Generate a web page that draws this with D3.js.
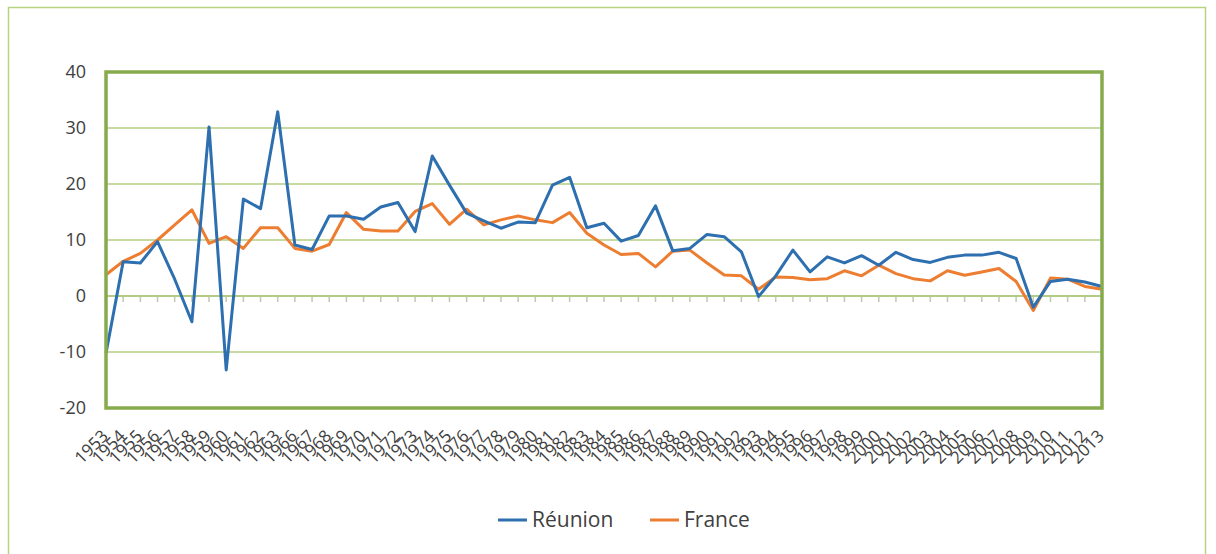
<!DOCTYPE html>
<html lang="en">
<head>
    <meta charset="UTF-8">
    <title>Réunion vs France</title>
    <script src="https://d3js.org/d3.v7.min.js"></script>
    <style>
        body {
            margin: 0;
            background-color: #ffffff;
            font-family: 'Open Sans', 'Noto Sans', sans-serif;
        }
        .ylabel, .xlabel {
            fill: #404040;
        }
        .legend text {
            fill: #404040;
            font-size: 21px;
        }
    </style>
</head>
<body>
    <div id="chart"></div>
    <script>
        // Years on the category axis (1964 and 1965 are absent in the source)
        const years = [1953, 1954, 1955, 1956, 1957, 1958, 1959, 1960, 1961, 1962, 1963,
            1966, 1967, 1968, 1969, 1970, 1971, 1972, 1973, 1974, 1975, 1976, 1977, 1978,
            1979, 1980, 1981, 1982, 1983, 1984, 1985, 1986, 1987, 1988, 1989, 1990, 1991,
            1992, 1993, 1994, 1995, 1996, 1997, 1998, 1999, 2000, 2001, 2002, 2003, 2004,
            2005, 2006, 2007, 2008, 2009, 2010, 2011, 2012, 2013];

        const reunion = [-10.2, 6.1, 5.9, 9.7, 3.0, -4.6, 30.2, -13.2, 17.3, 15.6, 32.9,
            9.1, 8.3, 14.3, 14.3, 13.7, 15.9, 16.7, 11.5, 25.0, 19.8, 14.8, 13.4, 12.1,
            13.2, 13.1, 19.8, 21.2, 12.2, 13.0, 9.8, 10.8, 16.1, 8.1, 8.5, 11.0, 10.6,
            7.9, -0.1, 3.6, 8.2, 4.3, 7.0, 5.9, 7.2, 5.5, 7.8, 6.5, 6.0, 6.9, 7.3, 7.3,
            7.8, 6.7, -2.0, 2.6, 3.0, 2.5, 1.7];

        const france = [3.8, 6.2, 7.6, 10.0, 12.7, 15.4, 9.4, 10.6, 8.5, 12.2, 12.2,
            8.5, 8.0, 9.2, 14.9, 11.9, 11.6, 11.6, 15.1, 16.5, 12.8, 15.5, 12.7, 13.6,
            14.3, 13.6, 13.1, 14.9, 11.2, 9.1, 7.4, 7.6, 5.2, 8.0, 8.2, 5.9, 3.75, 3.6,
            1.2, 3.4, 3.3, 2.9, 3.1, 4.5, 3.6, 5.5, 4.0, 3.1, 2.7, 4.5, 3.7, 4.3, 4.9,
            2.6, -2.6, 3.2, 3.0, 1.7, 1.2];

        const yTicks = [-20, -10, 0, 10, 20, 30, 40];

        const W = 1216, H = 554;
        const plot = {left: 106, right: 1102, top: 72, bottom: 408};

        const svg = d3.select("#chart")
            .append("svg")
            .attr("width", W)
            .attr("height", H);

        // outer chart border
        svg.append("rect")
            .attr("x", 8.5).attr("y", 7.5)
            .attr("width", 1197).attr("height", 560)
            .attr("fill", "none")
            .attr("stroke", "#b7d37f")
            .attr("stroke-width", 1.5);

        const x = d3.scalePoint()
            .domain(years)
            .range([plot.left, plot.right]);

        const y = d3.scaleLinear()
            .domain([-20, 40])
            .range([plot.bottom, plot.top]);

        // horizontal gridlines
        svg.append("g")
            .selectAll("line")
            .data(yTicks)
            .join("line")
            .attr("x1", plot.left).attr("x2", plot.right)
            .attr("y1", d => y(d)).attr("y2", d => y(d))
            .attr("stroke", "#c5d9a0")
            .attr("stroke-width", 2);

        // category ticks hanging below the zero line
        svg.append("g")
            .selectAll("line")
            .data(years.slice(1))
            .join("line")
            .attr("x1", d => x(d)).attr("x2", d => x(d))
            .attr("y1", y(0)).attr("y2", y(0) + 6)
            .attr("stroke", "#c0c8b0")
            .attr("stroke-width", 1.5);

        // zero line slightly stronger
        svg.append("line")
            .attr("x1", plot.left).attr("x2", plot.right)
            .attr("y1", y(0)).attr("y2", y(0))
            .attr("stroke", "#b3cc84")
            .attr("stroke-width", 2);

        // y labels
        svg.append("g")
            .selectAll("text")
            .data(yTicks)
            .join("text")
            .attr("class", "ylabel")
            .attr("x", 86)
            .attr("y", d => y(d))
            .attr("dy", "0.35em")
            .attr("text-anchor", "end")
            .style("font-size", "18px")
            .text(d => d);

        // x labels rotated
        svg.append("g")
            .selectAll("text")
            .data(years)
            .join("text")
            .attr("class", "xlabel")
            .attr("transform", d => `translate(${x(d) - 1},${plot.bottom + 25}) rotate(-45)`)
            .attr("text-anchor", "end")
            .attr("dy", "0.35em")
            .style("font-size", "17px")
            .text(d => d);

        const line = d3.line()
            .x((d, i) => x(years[i]))
            .y(d => y(d));

        svg.append("path")
            .datum(france)
            .attr("d", line)
            .attr("fill", "none")
            .attr("stroke", "#ed7d31")
            .attr("stroke-width", 3)
            .attr("stroke-linejoin", "round");

        svg.append("path")
            .datum(reunion)
            .attr("d", line)
            .attr("fill", "none")
            .attr("stroke", "#2e6fb0")
            .attr("stroke-width", 3)
            .attr("stroke-linejoin", "round");

        // plot frame
        svg.append("rect")
            .attr("x", plot.left).attr("y", plot.top)
            .attr("width", plot.right - plot.left)
            .attr("height", plot.bottom - plot.top)
            .attr("fill", "none")
            .attr("stroke", "#86aa4c")
            .attr("stroke-width", 3.5);

        // legend
        const legend = svg.append("g").attr("class", "legend");
        const items = [
            {name: "Réunion", color: "#2e6fb0", x: 498},
            {name: "France", color: "#ed7d31", x: 650}
        ];
        items.forEach(it => {
            legend.append("line")
                .attr("x1", it.x).attr("x2", it.x + 29)
                .attr("y1", 520).attr("y2", 520)
                .attr("stroke", it.color)
                .attr("stroke-width", 3);
            legend.append("text")
                .attr("x", it.x + 34)
                .attr("y", 520)
                .attr("dy", "0.35em")
                .text(it.name);
        });
    </script>
</body>
</html>
